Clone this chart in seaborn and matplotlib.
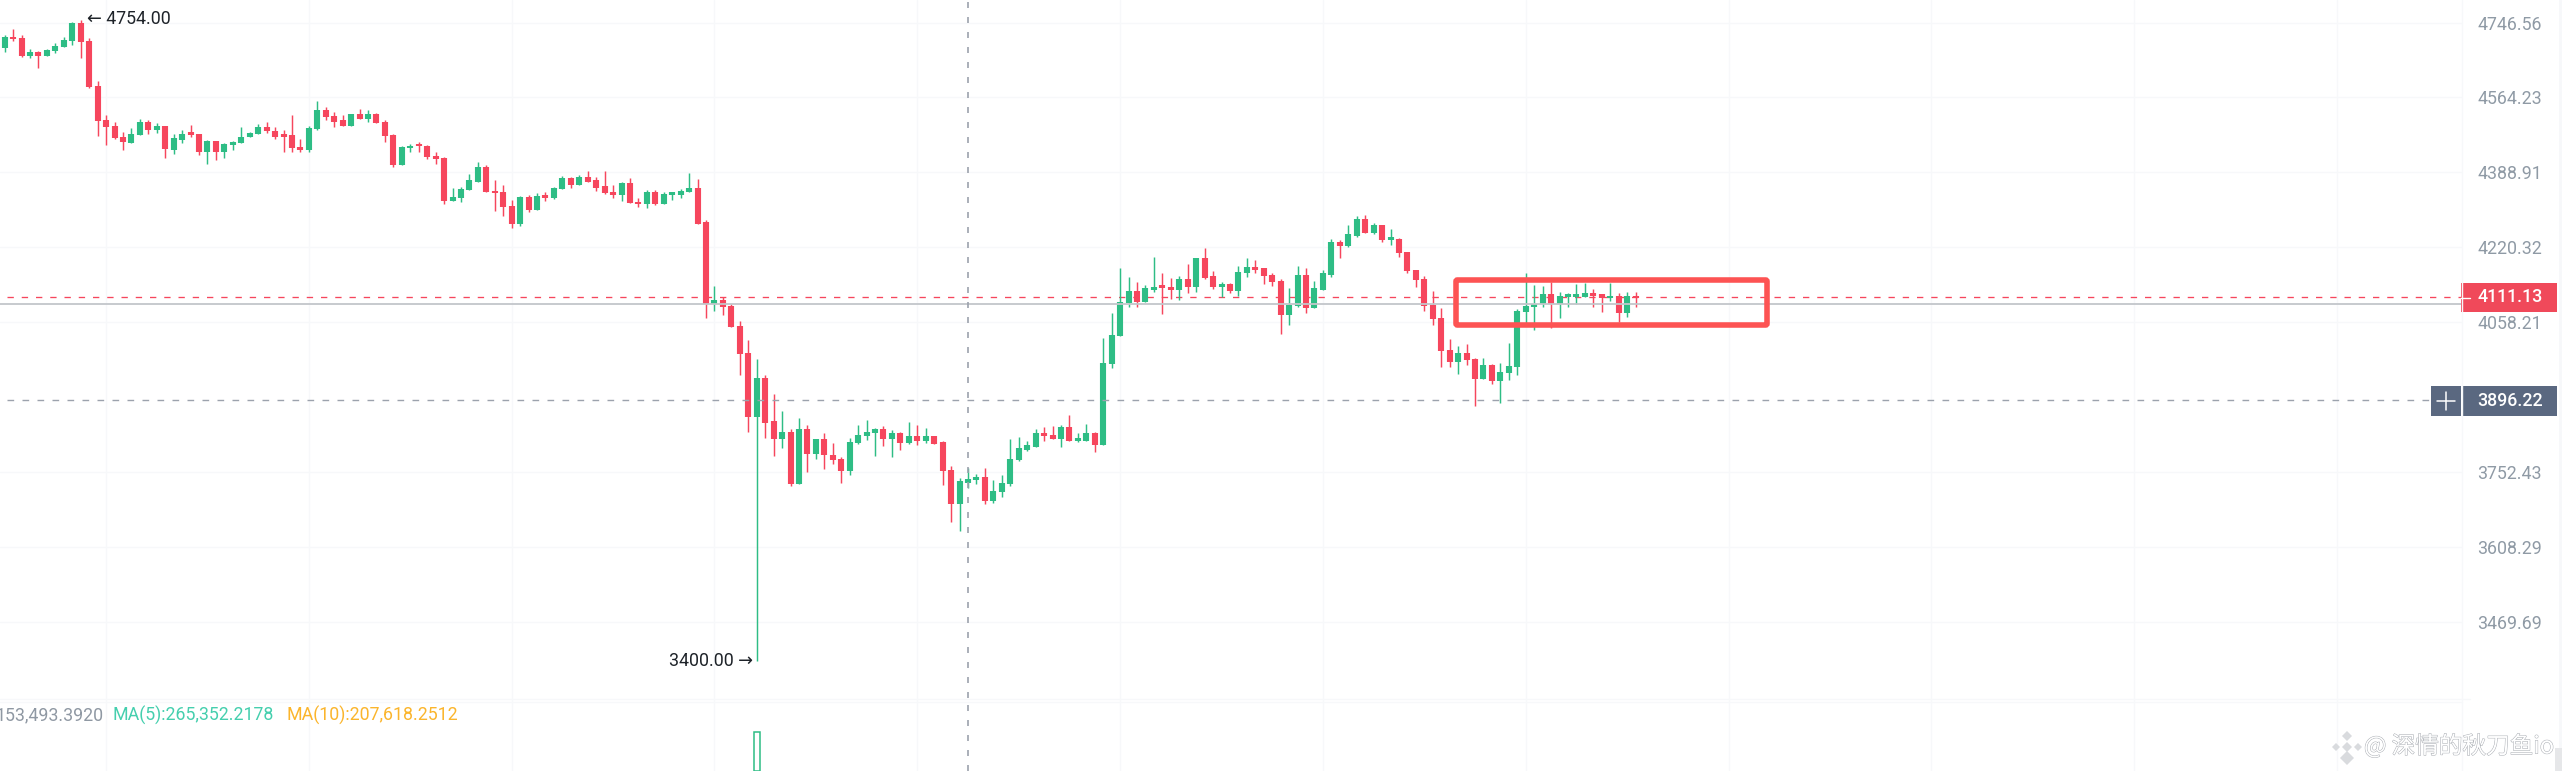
import matplotlib
matplotlib.use("Agg")
import matplotlib.pyplot as plt
import matplotlib.patheffects as pe
from matplotlib.patches import Rectangle, FancyBboxPatch, RegularPolygon
import pandas as pd
import seaborn as sns

# candle data
highs = [
    4716, 4730, 4717, 4681, 4677, 4681, 4696, 4710, 4747, 4754,
    4708, 4603, 4522, 4506, 4482, 4493, 4514, 4511, 4504, 4496,
    4477, 4487, 4498, 4479, 4464, 4461, 4456, 4462, 4495, 4482,
    4502, 4505, 4494, 4487, 4522, 4467, 4497, 4556, 4541, 4529,
    4523, 4525, 4537, 4535, 4528, 4511, 4478, 4451, 4455, 4459,
    4453, 4435, 4425, 4354, 4356, 4385, 4412, 4405, 4372, 4361,
    4325, 4334, 4337, 4342, 4344, 4356, 4381, 4378, 4382, 4391,
    4378, 4391, 4360, 4368, 4375, 4331, 4348, 4349, 4344, 4344,
    4350, 4388, 4374, 4282, 4136, 4111, 4097, 4061, 4021, 3980,
    3947, 3909, 3873, 3837, 3860, 3845, 3817, 3830, 3810, 3782,
    3819, 3845, 3855, 3840, 3843, 3836, 3832, 3852, 3845, 3839,
    3823, 3813, 3764, 3741, 3761, 3749, 3761, 3737, 3747, 3818,
    3821, 3814, 3837, 3841, 3843, 3846, 3865, 3830, 3847, 3832,
    4025, 4077, 4175, 4156, 4144, 4137, 4200, 4163, 4152, 4158,
    4184, 4197, 4219, 4168, 4144, 4142, 4180, 4196, 4193, 4174,
    4164, 4151, 4132, 4179, 4175, 4147, 4171, 4238, 4237, 4269,
    4291, 4293, 4274, 4270, 4260, 4241, 4211, 4171, 4158, 4124,
    4088, 4023, 4008, 4012, 3983, 3983, 3970, 3973, 4015, 4086,
    4163, 4138, 4136, 4144, 4123, 4120, 4139, 4142, 4130, 4119,
    4142, 4120, 4122, 4122,
]
lows = [
    4675, 4702, 4663, 4660, 4635, 4665, 4671, 4687, 4692, 4660,
    4588, 4473, 4452, 4467, 4440, 4457, 4475, 4477, 4480, 4422,
    4431, 4456, 4470, 4430, 4408, 4418, 4422, 4440, 4456, 4470,
    4477, 4480, 4467, 4436, 4435, 4435, 4437, 4488, 4511, 4495,
    4496, 4496, 4513, 4506, 4503, 4460, 4401, 4405, 4436, 4435,
    4420, 4408, 4316, 4323, 4322, 4348, 4366, 4344, 4302, 4289,
    4262, 4267, 4298, 4303, 4324, 4329, 4350, 4354, 4360, 4368,
    4347, 4340, 4330, 4324, 4319, 4311, 4309, 4315, 4316, 4325,
    4331, 4343, 4273, 4067, 4083, 4074, 4048, 3947, 3832, 3400,
    3819, 3783, 3800, 3724, 3728, 3753, 3777, 3759, 3769, 3730,
    3746, 3808, 3815, 3783, 3804, 3782, 3795, 3808, 3806, 3810,
    3808, 3726, 3656, 3639, 3722, 3729, 3691, 3692, 3703, 3724,
    3774, 3794, 3802, 3813, 3817, 3802, 3813, 3812, 3814, 3791,
    3805, 3963, 4028, 4090, 4090, 4102, 4123, 4076, 4108, 4105,
    4120, 4123, 4150, 4130, 4113, 4120, 4114, 4156, 4164, 4139,
    4136, 4033, 4053, 4090, 4078, 4089, 4126, 4155, 4196, 4222,
    4242, 4253, 4249, 4233, 4225, 4200, 4165, 4134, 4083, 4053,
    3964, 3965, 3949, 3968, 3885, 3939, 3929, 3890, 3937, 3947,
    4053, 4042, 4090, 4045, 4066, 4090, 4098, 4112, 4091, 4079,
    4104, 4058, 4069, 4091,
]
opens = [
    4683, 4712, 4709, 4665, 4675, 4665, 4677, 4687, 4702, 4746,
    4701, 4592, 4510, 4496, 4472, 4457, 4476, 4507, 4487, 4496,
    4441, 4465, 4482, 4479, 4437, 4461, 4435, 4452, 4458, 4470,
    4479, 4495, 4486, 4478, 4475, 4447, 4441, 4490, 4534, 4521,
    4510, 4497, 4524, 4514, 4525, 4507, 4475, 4407, 4445, 4455,
    4451, 4427, 4423, 4323, 4331, 4348, 4368, 4402, 4347, 4343,
    4313, 4273, 4333, 4304, 4337, 4330, 4351, 4375, 4361, 4378,
    4371, 4357, 4343, 4337, 4364, 4322, 4316, 4343, 4316, 4338,
    4337, 4344, 4353, 4276, 4096, 4105, 4092, 4051, 3993, 3862,
    3941, 3853, 3817, 3832, 3728, 3838, 3787, 3817, 3786, 3778,
    3755, 3809, 3823, 3830, 3838, 3818, 3829, 3809, 3823, 3814,
    3823, 3811, 3757, 3690, 3731, 3737, 3743, 3695, 3713, 3728,
    3775, 3795, 3802, 3829, 3826, 3817, 3841, 3814, 3814, 3829,
    3805, 3970, 4028, 4099, 4124, 4102, 4128, 4137, 4134, 4128,
    4150, 4134, 4197, 4157, 4134, 4141, 4125, 4164, 4176, 4174,
    4160, 4147, 4073, 4092, 4160, 4089, 4128, 4160, 4233, 4223,
    4245, 4283, 4253, 4269, 4236, 4238, 4209, 4170, 4151, 4094,
    4066, 4000, 3975, 3993, 3981, 3939, 3969, 3936, 3951, 3964,
    4080, 4090, 4098, 4118, 4098, 4112, 4112, 4112, 4121, 4118,
    4109, 4115, 4077, 4115,
]
closes = [
    4712, 4706, 4665, 4675, 4665, 4679, 4690, 4704, 4746, 4698,
    4589, 4508, 4494, 4469, 4459, 4479, 4507, 4487, 4496, 4442,
    4468, 4479, 4476, 4437, 4461, 4435, 4454, 4460, 4472, 4481,
    4495, 4484, 4472, 4472, 4445, 4441, 4492, 4535, 4518, 4507,
    4497, 4524, 4514, 4524, 4504, 4473, 4405, 4447, 4451, 4449,
    4424, 4420, 4323, 4332, 4350, 4371, 4402, 4344, 4341, 4310,
    4273, 4333, 4303, 4336, 4331, 4354, 4375, 4361, 4378, 4368,
    4354, 4341, 4337, 4364, 4319, 4316, 4344, 4316, 4340, 4343,
    4347, 4353, 4273, 4096, 4105, 4090, 4049, 3992, 3862, 3941,
    3850, 3817, 3832, 3728, 3838, 3787, 3817, 3785, 3775, 3755,
    3811, 3826, 3832, 3838, 3818, 3829, 3809, 3823, 3814, 3823,
    3808, 3755, 3690, 3734, 3739, 3743, 3695, 3716, 3731, 3778,
    3799, 3805, 3829, 3823, 3817, 3841, 3814, 3820, 3829, 3805,
    3972, 4031, 4102, 4124, 4102, 4131, 4134, 4131, 4128, 4150,
    4134, 4197, 4154, 4134, 4141, 4125, 4167, 4176, 4171, 4158,
    4144, 4073, 4095, 4160, 4089, 4131, 4164, 4233, 4223, 4249,
    4283, 4253, 4269, 4236, 4242, 4207, 4168, 4148, 4093, 4064,
    3997, 3975, 3993, 3979, 3939, 3969, 3936, 3953, 3966, 4083,
    4093, 4098, 4118, 4098, 4114, 4118, 4118, 4121, 4115, 4109,
    4115, 4077, 4115, 4109,
]

y_ticks = [4746.56, 4564.23, 4388.91, 4220.32, 4058.21, 3752.43, 3608.29, 3469.69]
x_grid = list(range(12, 300, 24))

last_price = 4111.13
mark_price = 4097
cross_price = 3896.22
cross_index = 114

high_label = "4754.00"
low_label = "3400.00"
volume_index = [89]
volume_value = [1250000]

GREEN = "#2ebd85"
RED = "#f6465d"
GRID = "#f7f8fa"
TICK = "#8f9aa5"
CROSS = "#9ca2ad"
W, H = 2562, 771

sns.set_theme(style="white")
plt.rcParams["font.family"] = ["Roboto", "DejaVu Sans"]
plt.rcParams["font.size"] = 12.8

candles = pd.DataFrame({"i": range(len(highs)), "high": highs, "low": lows,
                        "open": opens, "close": closes})
candles["side"] = ["up" if c > o else "down" for o, c in zip(opens, closes)]
wicks = candles.melt(id_vars=["i", "side"], value_vars=["high", "low"], value_name="price")
bodies = candles.melt(id_vars=["i", "side"], value_vars=["open", "close"], value_name="price")
palette = {"up": GREEN, "down": RED}

fig = plt.figure(figsize=(W / 100, H / 100), dpi=100, facecolor="white")
ax = fig.add_axes([0, (H - 698) / H, 2462 / W, 698 / H])
vax = fig.add_axes([0, 0, 2462 / W, (H - 698) / H])
ov = fig.add_axes([0, 0, 1, 1], zorder=10)
ov.set_xlim(0, W)
ov.set_ylim(H, 0)
ov.axis("off")
ov.patch.set_alpha(0)

# candles: one thin and one thick line per bar
sns.lineplot(data=wicks, x="i", y="price", units="i", hue="side", palette=palette,
             estimator=None, legend=False, ax=ax, linewidth=1.05, solid_capstyle="butt")
sns.lineplot(data=bodies, x="i", y="price", units="i", hue="side", palette=palette,
             estimator=None, legend=False, ax=ax, linewidth=4.4, solid_capstyle="butt")

ax.set_yscale("log")
ax.set_xlim(-0.553, 290.8)
ax.set_ylim(3334, 4803)
ax.set_yticks(y_ticks)
ax.set_yticklabels([f"{v:.2f}" for v in y_ticks], color=TICK, fontsize=12.8)
ax.minorticks_off()
ax.yaxis.tick_right()
ax.tick_params(axis="y", length=0, pad=10.8)
ax.set_xticks(x_grid)
ax.tick_params(axis="x", length=0, labelbottom=False)
ax.set_xlabel("")
ax.set_ylabel("")
ax.grid(True, color=GRID, linewidth=1.0)
ax.set_axisbelow(True)
sns.despine(ax=ax, left=True, bottom=True, right=True, top=True)

# price lines
ax.axhline(last_price, xmin=7 / 2462, color=RED, linewidth=0.95, linestyle=(0, (4.8, 6)), zorder=1)
ax.axhline(mark_price, color="#c3c6ca", linewidth=1.3, zorder=3)
ax.axhline(cross_price, xmin=7 / 2462, xmax=2431 / 2462, color=CROSS, linewidth=1.0,
           linestyle=(0, (4.8, 6)), zorder=3)
ax.axvline(cross_index, color=CROSS, linewidth=1.2, linestyle=(0, (3.6, 5.4)), zorder=3)

# volume pane, only the long bar reaches into the crop
sns.barplot(x=volume_index, y=volume_value, native_scale=True, fill=False, color=GREEN,
            width=0.7, linewidth=1.1, ax=vax)
vax.axvline(cross_index, color=CROSS, linewidth=1.2, linestyle=(0, (3.6, 5.4)), zorder=3)
vax.set_xlim(-0.553, 290.8)
vax.set_ylim(0, 2350000)
vax.set_xticks(x_grid)
vax.set_yticks([])
vax.tick_params(axis="x", length=0, labelbottom=False)
vax.grid(True, axis="x", color=GRID, linewidth=1.0)
vax.set_axisbelow(True)
vax.set_xlabel("")
vax.set_ylabel("")
sns.despine(ax=vax, left=True, bottom=True, right=True, top=True)

ov.plot([0, 2470], [699, 699], color=GRID, lw=1)
ov.plot([0, 2462], [702, 702], color=GRID, lw=1)
ov.plot([2462, 2462], [0, 771], color=GRID, lw=1)

# highlight frame
ov.add_patch(FancyBboxPatch((1456, 280), 311, 45, boxstyle="round,pad=0,rounding_size=1.5",
                            fill=False, edgecolor="#fd5353", linewidth=4.0))

# high / low labels
ov.text(87, 19, "← " + high_label, color="#1e2329", fontsize=12.8, va="center", ha="left")
ov.text(753, 661.5, low_label + " →", color="#1e2329", fontsize=12.8, va="center", ha="right")

# axis price boxes
ov.add_patch(Rectangle((2461, 283), 96, 29, color="#f0495a", lw=0))
ov.plot([2461, 2470], [297.5, 297.5], color="white", lw=1)
ov.text(2477, 297.5, f"{last_price:.2f}", color="white", fontsize=12.8, va="center", fontweight="medium")
ov.add_patch(Rectangle((2462.5, 386), 94.5, 29.5, color="#5a6880", lw=0))
ov.add_patch(Rectangle((2431, 386), 30, 29.5, color="#5a6880", lw=0))
ov.plot([2437, 2455], [401, 401], color="white", lw=1.1)
ov.plot([2446, 2446], [392, 410], color="white", lw=1.1)
ov.text(2477, 400.5, f"{cross_price:.2f}", color="white", fontsize=12.8, va="center", fontweight="medium")

# indicator line above the volume pane
ov.text(103.5, 715, "153,493.3920", color="#8f98a3", fontsize=12.8, va="center", ha="right", clip_on=True)
ov.text(113, 715, "MA(5):265,352.2178", color="#45cfae", fontsize=12.8, va="center")
ov.text(286, 715, "MA(10):207,618.2512", color="#fbb52c", fontsize=12.8, va="center")

# right strip and scrollbar
ov.add_patch(Rectangle((2559, 0), 3, 771, color="#f7f8fa", lw=0))
ov.add_patch(Rectangle((2555, 748), 7, 23, color="#e6e7e9", lw=0))

# watermark
for cx, cy, size in [(2347, 747, 5), (2347, 736, 5), (2347, 758, 7), (2336, 747, 4), (2358, 747, 4)]:
    ov.add_patch(RegularPolygon((cx, cy), 4, radius=size, color="#d9dbde", lw=0))
ov.text(2364, 746, "@ 深情的秋刀鱼io", family=["Noto Sans CJK SC", "DejaVu Sans"], fontsize=17,
        color="white", va="center", ha="left",
        path_effects=[pe.withStroke(linewidth=0.7, foreground="#a9adb3")])

fig.savefig("out.png", dpi=100, facecolor="white")
